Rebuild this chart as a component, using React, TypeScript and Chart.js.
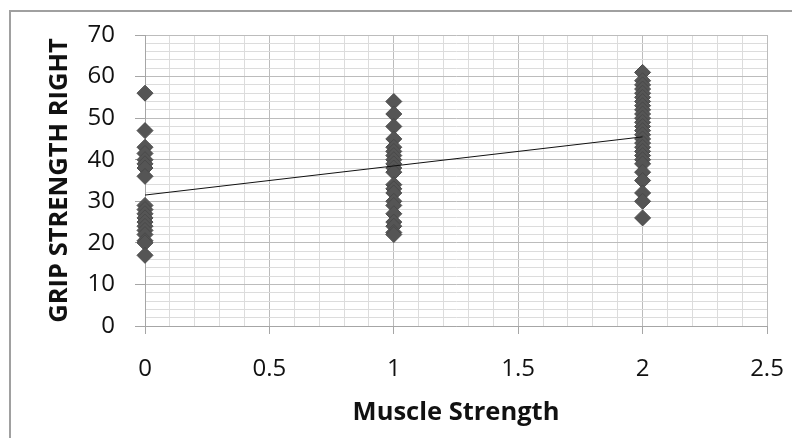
import React, { useEffect, useRef } from "react";
import { Chart, registerables } from "chart.js";

Chart.register(...registerables);

// Grip strength (right) readings for each muscle strength level
const muscleLevels = [0, 1, 2];
const gripAtLevel0 = [56, 47, 43, 41.5, 40, 39, 38, 36, 29, 28, 27, 26, 25, 24, 23, 22, 20.5, 20, 17];
const gripAtLevel1 = [54, 51, 48, 45, 43, 42, 41, 40, 39, 38, 37, 34, 33, 32, 30, 29, 27, 25, 24, 22.5, 22];
const gripAtLevel2 = [61, 59, 58, 57, 56, 55, 54, 53, 52, 51, 50, 49, 48, 47, 46, 45, 44, 43, 42, 41, 40, 39, 37, 35, 32, 30, 26];
// Linear trend line endpoints
const trendX = [0, 2];
const trendY = [31.5, 45.5];

const xTitle = "Muscle Strength";
const yTitle = "GRIP STRENGTH RIGHT";

export default function App() {
  const ref = useRef<HTMLCanvasElement | null>(null);

  useEffect(() => {
    if (!ref.current) return;
    const groups = [gripAtLevel0, gripAtLevel1, gripAtLevel2];
    const points: { x: number; y: number }[] = [];
    groups.forEach((vals, i) => vals.forEach((v) => points.push({ x: muscleLevels[i], y: v })));
    const trend = trendX.map((x, i) => ({ x, y: trendY[i] }));

    const isMajorX = (v: number) => Math.round(v * 10) % 5 === 0;
    const isMajorY = (v: number) => Math.round(v) % 10 === 0;
    const tickFont = { family: "'Open Sans', sans-serif", size: 24 };
    const titleFont = { family: "'Open Sans', sans-serif", size: 25.5, weight: "bold" as const };

    const chart = new Chart(ref.current, {
      type: "scatter",
      data: {
        datasets: [
          {
            type: "line",
            data: trend,
            borderColor: "#111111",
            borderWidth: 1,
            pointRadius: 0,
            fill: false,
            order: 1,
          },
          {
            data: points,
            pointStyle: "rectRot",
            pointRadius: 8,
            backgroundColor: "#555555",
            borderColor: "#4a4a4a",
            borderWidth: 1,
            clip: false,
            order: 2,
          },
        ],
      },
      options: {
        animation: false,
        responsive: false,
        maintainAspectRatio: false,
        layout: { padding: { left: 0, top: 35, right: 25, bottom: 0 } },
        plugins: { legend: { display: false }, tooltip: { enabled: false } },
        scales: {
          x: {
            type: "linear",
            min: 0,
            max: 2.5,
            afterFit: (s: any) => {
              s.height = 112;
              s.paddingRight = 0;
              s.paddingLeft = 0;
            },
            ticks: {
              stepSize: 0.1,
              autoSkip: false,
              maxRotation: 0,
              padding: 21,
              color: "#111111",
              font: tickFont,
              callback: (v: any) => (isMajorX(Number(v)) ? String(Math.round(Number(v) * 10) / 10) : ""),
            },
            grid: {
              color: (c: any) => (isMajorX(c.tick?.value ?? 0) ? "#bcbcbc" : "#dcdcdc"),
              tickColor: (c: any) => (isMajorX(c.tick?.value ?? 0) ? "#a6a6a6" : "rgba(0,0,0,0)"),
              tickLength: 8,
              lineWidth: 1,
            },
            border: { color: "#a6a6a6", width: 1 },
            title: {
              display: true,
              text: xTitle,
              color: "#111111",
              font: titleFont,
              padding: { top: 0, bottom: 10 },
            },
          },
          y: {
            type: "linear",
            min: 0,
            max: 70,
            afterFit: (s: any) => {
              s.width = 145;
            },
            ticks: {
              stepSize: 2,
              autoSkip: false,
              padding: 20,
              color: "#111111",
              font: tickFont,
              callback: (v: any) => (isMajorY(Number(v)) ? String(Math.round(Number(v))) : ""),
            },
            grid: {
              color: (c: any) => (isMajorY(c.tick?.value ?? 0) ? "#bcbcbc" : "#dcdcdc"),
              tickColor: (c: any) => (isMajorY(c.tick?.value ?? 0) ? "#a6a6a6" : "rgba(0,0,0,0)"),
              tickLength: 10,
              lineWidth: 1,
            },
            border: { color: "#a6a6a6", width: 1 },
            title: {
              display: true,
              text: yTitle,
              color: "#111111",
              font: titleFont,
              padding: { top: 44, bottom: 0 },
            },
          },
        },
      },
    });
    return () => chart.destroy();
  }, []);

  return (
    <div style={{ position: "fixed", left: 0, top: 0, width: 792, height: 438, background: "#ffffff", overflow: "hidden" }}>
      <div
        style={{
          position: "absolute",
          left: 9,
          top: 10,
          width: 900,
          height: 600,
          borderLeft: "2px solid #a0a0a0",
          borderTop: "2px solid #a0a0a0",
        }}
      />
      <canvas ref={ref} width={792} height={438} style={{ position: "absolute", left: 0, top: 0, width: 792, height: 438 }} />
    </div>
  );
}
